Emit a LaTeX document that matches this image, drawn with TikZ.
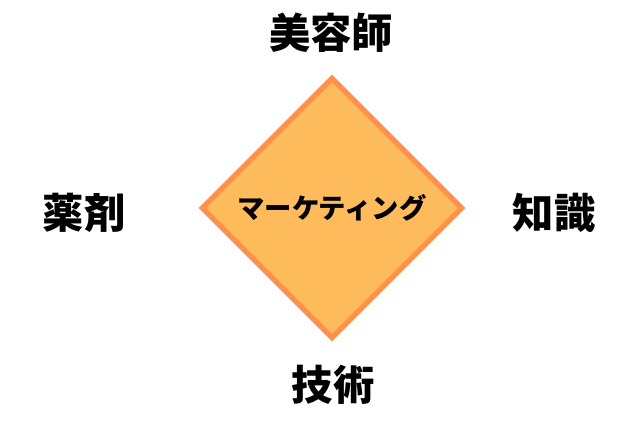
\documentclass[tikz,border=0pt]{standalone}
\usepackage{fontspec}
\usetikzlibrary{shapes.geometric}
\newfontfamily\jpfont{Noto Sans CJK JP}
\definecolor{diafill}{HTML}{FDBB5C}
\definecolor{diaedge}{HTML}{FF914D}
\begin{document}
\begin{tikzpicture}[x=0.75pt,y=0.75pt]
\tikzset{
  corner/.style={font=\jpfont\bfseries\fontsize{31}{31}\selectfont, inner sep=0pt},
  centerbox/.style={diamond, aspect=1, draw=diaedge, fill=diafill, line width=4pt,
    minimum width=196pt, minimum height=196pt, inner sep=0pt,
    font=\jpfont\bfseries\fontsize{20.5}{20.5}\selectfont}
}
\useasboundingbox (0,0) rectangle (640,-427);
\node [centerbox] (mkt) at (332,-208) {マーケティング};
\node [corner] (top) at (331,-33) {美容師};
\node [corner] (left) at (84,-213) {薬剤};
\node [corner] (right) at (554,-213) {知識};
\node [corner] (bottom) at (333,-385) {技術};
\end{tikzpicture}
\end{document}
